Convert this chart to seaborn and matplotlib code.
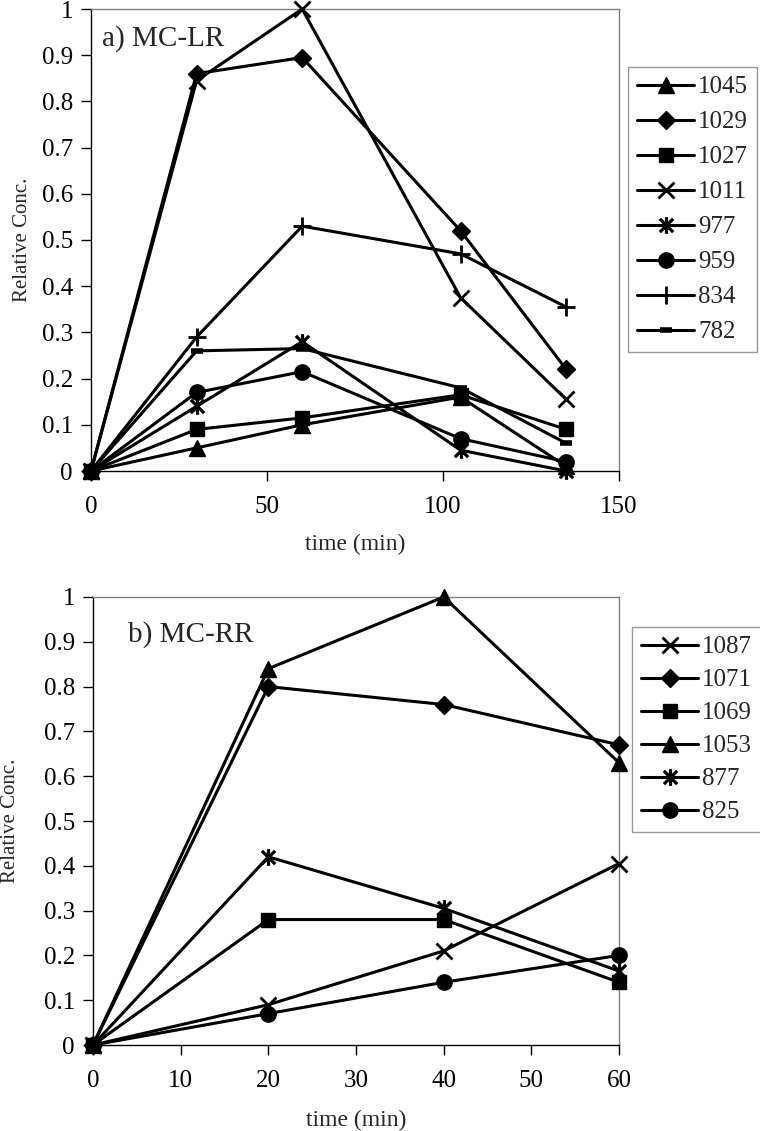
import numpy as np
import matplotlib
matplotlib.use("Agg")
import matplotlib.pyplot as plt
from matplotlib.path import Path
import seaborn as sns

# ---- data ----
time_lr = [0, 30, 60, 105, 135]
lr_names = ['1045', '1029', '1027', '1011', '977', '959', '834', '782']
lr_1045 = [0, 0.05, 0.10, 0.16, 0.01]
lr_1029 = [0, 0.86, 0.895, 0.52, 0.22]
lr_1027 = [0, 0.09, 0.115, 0.165, 0.09]
lr_1011 = [0, 0.845, 1.0, 0.375, 0.155]
lr_977 = [0, 0.14, 0.28, 0.045, 0.0]
lr_959 = [0, 0.17, 0.215, 0.07, 0.02]
lr_834 = [0, 0.29, 0.53, 0.47, 0.355]
lr_782 = [0, 0.26, 0.265, 0.18, 0.06]

time_rr = [0, 20, 40, 60]
rr_names = ['1087', '1071', '1069', '1053', '877', '825']
rr_1087 = [0, 0.09, 0.21, 0.405]
rr_1071 = [0, 0.80, 0.76, 0.67]
rr_1069 = [0, 0.28, 0.28, 0.14]
rr_1053 = [0, 0.84, 1.0, 0.63]
rr_877 = [0, 0.42, 0.305, 0.165]
rr_825 = [0, 0.07, 0.14, 0.20]

sns.set_style("white")
plt.rcParams['font.family'] = ['Liberation Serif', 'DejaVu Serif']

# asterisk like the spreadsheet one: an X with a vertical bar
asterisk = Path([(-1, -1), (1, 1), (-1, 1), (1, -1), (0, -1.25), (0, 1.25)],
                [Path.MOVETO, Path.LINETO, Path.MOVETO, Path.LINETO, Path.MOVETO, Path.LINETO])

estilos = {
    'tri': dict(marker='^', markersize=11, markeredgewidth=1),
    'dia': dict(marker='D', markersize=9, markeredgewidth=1),
    'sq': dict(marker='s', markersize=10, markeredgewidth=1),
    'x': dict(marker='x', markersize=11, markeredgewidth=2),
    'ast': dict(marker=asterisk, markersize=12, markeredgewidth=2.3),
    'o': dict(marker='o', markersize=11, markeredgewidth=1),
    '+': dict(marker='+', markersize=13, markeredgewidth=2),
    '-': dict(marker='_', markersize=9, markeredgewidth=4),
}

fig = plt.figure(figsize=(7.6, 11.31), dpi=100)
ax1 = fig.add_axes([91 / 760, 1 - 471 / 1131, 528 / 760, 462 / 1131])
ax2 = fig.add_axes([93 / 760, 1 - 1045 / 1131, 526 / 760, 448 / 1131])


def dibujar(ax, t, series, nombres, marcas):
    for vals, nombre, m in zip(series, nombres, marcas):
        sns.lineplot(x=t, y=vals, ax=ax, color='black', lw=2.2, label=nombre,
                     clip_on=False, zorder=3, markerfacecolor='black',
                     markeredgecolor='black', **estilos[m])


dibujar(ax1, time_lr,
        [lr_1045, lr_1029, lr_1027, lr_1011, lr_977, lr_959, lr_834, lr_782],
        lr_names, ['tri', 'dia', 'sq', 'x', 'ast', 'o', '+', '-'])
dibujar(ax2, time_rr,
        [rr_1087, rr_1071, rr_1069, rr_1053, rr_877, rr_825],
        rr_names, ['x', 'dia', 'sq', 'tri', 'ast', 'o'])

yt = np.round(np.arange(0, 1.01, 0.1), 1)
for ax, xmax, xticks in [(ax1, 150, [0, 50, 100, 150]),
                         (ax2, 60, [0, 10, 20, 30, 40, 50, 60])]:
    ax.set_xlim(0, xmax)
    ax.set_ylim(0, 1)
    ax.set_xticks(xticks)
    ax.set_yticks(yt)
    ax.set_yticklabels([f'{v:g}' for v in yt])
    ax.tick_params(axis='x', direction='out', length=7, width=1, pad=11,
                   labelsize=18, bottom=True, colors='black')
    ax.tick_params(axis='y', direction='out', length=7, width=1, pad=6,
                   labelsize=18, left=True, colors='black')
    for s in ['left', 'bottom']:
        ax.spines[s].set_color('black')
        ax.spines[s].set_linewidth(1)
    for s in ['top', 'right']:
        ax.spines[s].set_color('#808080')
        ax.spines[s].set_linewidth(1)
    ax.set_xlabel('time (min)', fontsize=17)
    ax.set_ylabel('Relative Conc.', fontsize=15)
    ax.yaxis.label.set_va('center')

ax1.xaxis.set_label_coords(0.5, -0.136)
ax2.xaxis.set_label_coords(0.5, -0.144)
ax1.yaxis.set_label_coords(-0.129, 0.5)
ax2.yaxis.set_label_coords(-0.156, 0.5)

ax1.text(0.021, 0.935, 'a) MC-LR', transform=ax1.transAxes, fontsize=21, va='center', ha='left')
ax2.text(0.0665, 0.916, 'b) MC-RR', transform=ax2.transAxes, fontsize=21, va='center', ha='left')

leg_kw = dict(loc='upper left', bbox_transform=fig.transFigure, borderaxespad=0,
              fontsize=18, frameon=True, fancybox=False, handlelength=2.3,
              handletextpad=0.15, labelspacing=0.5, borderpad=0.35)
l1 = ax1.legend(bbox_to_anchor=(628 / 760, 1 - 67 / 1131), **leg_kw)
l2 = ax2.legend(bbox_to_anchor=(632 / 760, 1 - 627 / 1131),
                **{**leg_kw, 'labelspacing': 0.42})
for lg in (l1, l2):
    lg.get_frame().set_edgecolor('#808080')
    lg.get_frame().set_linewidth(1)

fig.savefig('out.png', dpi=100)
